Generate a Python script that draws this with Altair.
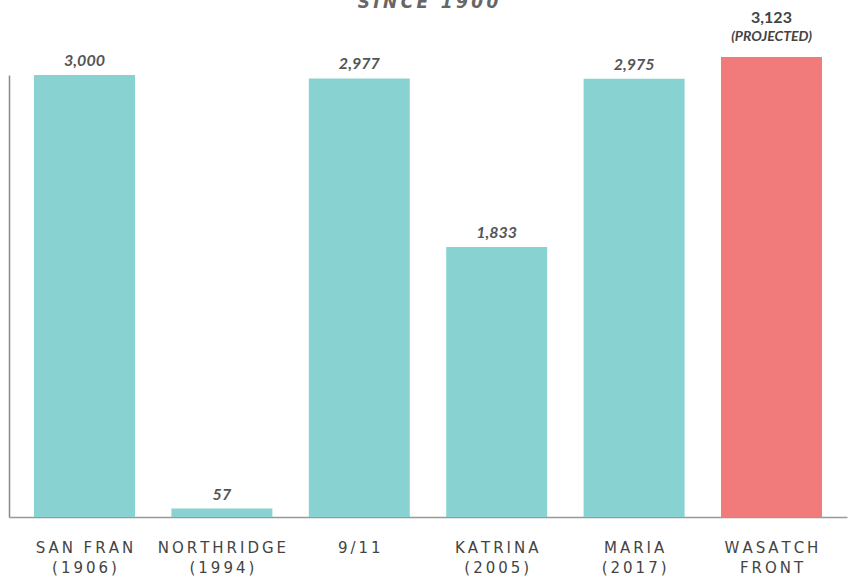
import altair as alt
import pandas as pd

categories = ["SAN FRAN|(1906)", "NORTHRIDGE|(1994)", "9/11", "KATRINA|(2005)", "MARIA|(2017)", "WASATCH|FRONT"]
values = [3000, 57, 2977, 1833, 2975, 3123]
labels = ["3,000", "57", "2,977", "1,833", "2,975", "3,123"]
projected = [False, False, False, False, False, True]
notes = ["", "", "", "", "", "(PROJECTED)"]
title_text = ["SINCE 1900"]

df = pd.DataFrame({
    "cat": categories,
    "value": values,
    "label": labels,
    "projected": projected,
    "note": notes,
})

GRAY = "#555555"
TS = "\u2009"  # thin space used as letter spacing

label_expr = f"split(join(split(datum.label, ''), '{TS}'), '{TS}|{TS}')"

x = alt.X("cat:N", sort=categories, title=None,
          scale=alt.Scale(paddingInner=0.265, paddingOuter=0.182),
          axis=alt.Axis(labelExpr=label_expr, labelAngle=0,
                        ticks=False, domainColor="#999999", domainWidth=1.5,
                        labelFont="DejaVu Sans", labelFontSize=15, labelFontWeight="normal",
                        labelColor="#444444", labelPadding=23, labelLineHeight=20,
                        labelBaseline="top"))
y = alt.Y("value:Q", title=None, scale=alt.Scale(domain=[0, 3000], nice=False),
          axis=alt.Axis(labels=False, ticks=False, grid=False,
                        domainColor="#888888", domainWidth=1.5))

base = alt.Chart(df).encode(x=x, y=y)

bars = base.mark_bar().encode(
    color=alt.Color("projected:N", scale=alt.Scale(domain=[False, True], range=["#88D3D1", "#F07B7A"]), legend=None)
)

vals = base.transform_filter("!datum.projected").mark_text(
    font="Lato", fontSize=16, fontWeight="bold", fontStyle="italic", color=GRAY,
    baseline="alphabetic", dy=-9
).encode(text="label:N")

proj_val = base.transform_filter("datum.projected").mark_text(
    font="Lato", fontSize=16, fontWeight="bold", color="#444444",
    baseline="alphabetic", dy=-34
).encode(text="label:N")

proj_note = base.transform_filter("datum.projected").mark_text(
    font="Lato", fontSize=14, fontWeight="bold", fontStyle="italic", color="#444444",
    baseline="alphabetic", dy=-16
).encode(text="note:N")

title_df = pd.DataFrame({"t": title_text})
title_mark = alt.Chart(title_df).transform_calculate(
    tt=f"join(split(datum.t, ''), '{TS}')"
).mark_text(
    font="DejaVu Sans", fontSize=17, fontWeight="bold", fontStyle="italic",
    color="#666666", baseline="alphabetic", align="center"
).encode(text="tt:N", x=alt.value(419), y=alt.value(-67))

chart = alt.layer(bars, vals, proj_val, proj_note, title_mark).properties(
    width=838, height=442,
    autosize=alt.AutoSizeParams(type="none"),
    padding={"left": 9, "top": 75, "right": 6, "bottom": 59},
).configure_view(stroke=None)

chart.save("out.html", embed_options={"renderer": "svg", "actions": False})
